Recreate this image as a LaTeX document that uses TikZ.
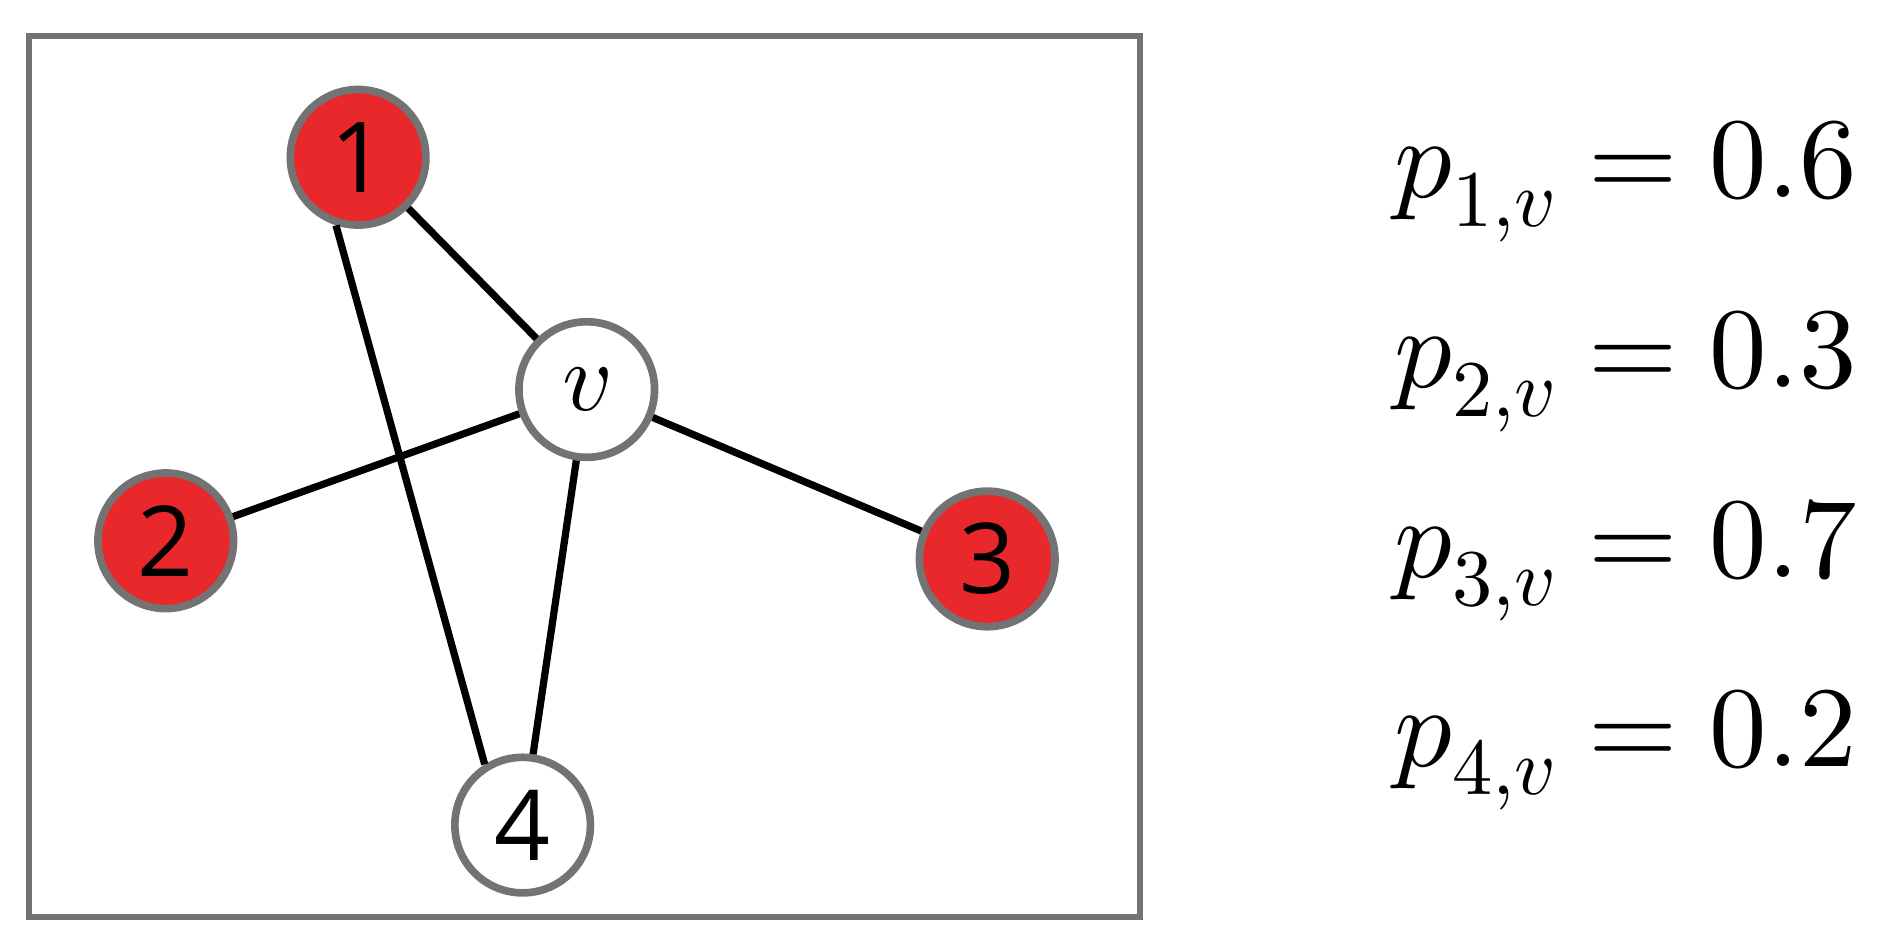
\documentclass[tikz,border=0pt]{standalone}
\usepackage{fontspec}
\setmainfont{Open Sans}
\usepackage{unicode-math}
\setmathfont{Latin Modern Math}
\begin{document}
\begin{tikzpicture}[x=0.01cm,y=-0.01cm,
  vert/.style={circle,draw=gray!90!black,line width=1.8pt,minimum size=1.12cm,inner sep=0pt,font=\fontsize{23}{25}\selectfont},
  red/.style={vert,fill={rgb,255:red,232;green,40;blue,42}},
  white/.style={vert,fill=white},
  edge/.style={line width=1.7pt,black},
  lab/.style={anchor=west,font=\fontsize{27}{30}\selectfont}]
\useasboundingbox (0,0) rectangle (1568,785);
\draw[line width=1.4pt,gray!90!black] (24,30) rectangle (942,758);
\node[red] (n1) at (296,130) {1};
\node[white] (v) at (485,322) {$v$};
\node[red] (n2) at (137,447) {2};
\node[red] (n3) at (816,462) {3};
\node[white] (n4) at (432,682) {4};
\draw[edge] (n1) -- (v);
\draw[edge] (n1.252) -- (n4.122);
\draw[edge] (n2) -- (v);
\draw[edge] (v) -- (n4);
\draw[edge] (v) -- (n3);
\node[lab] (l1) at (1140,150) {$p_{1,v}=0.6$};
\node[lab] (l2) at (1140,307) {$p_{2,v}=0.3$};
\node[lab] (l3) at (1140,463) {$p_{3,v}=0.7$};
\node[lab] (l4) at (1140,620) {$p_{4,v}=0.2$};
\end{tikzpicture}
\end{document}
